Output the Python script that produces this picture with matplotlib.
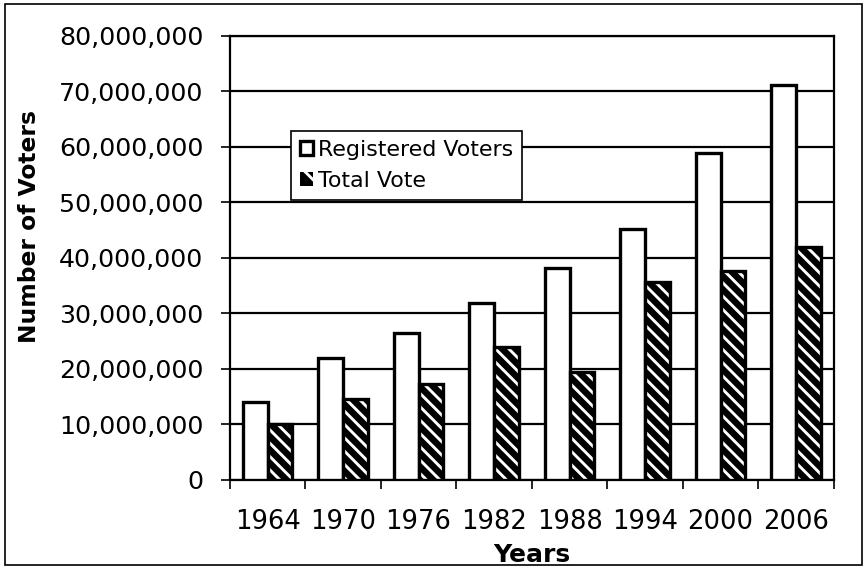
import matplotlib
matplotlib.use("Agg")
import matplotlib.pyplot as plt
from matplotlib.patches import Patch, Rectangle
import numpy as np

years = ["1964", "1970", "1976", "1982", "1988", "1994", "2000", "2006"]
registered = [14_000_000, 22_000_000, 26_400_000, 31_800_000, 38_200_000, 45_200_000, 58_800_000, 71_200_000]
total_vote = [10_100_000, 14_500_000, 17_200_000, 23_900_000, 19_500_000, 35_600_000, 37_700_000, 41_900_000]
y_ticks = [0, 10_000_000, 20_000_000, 30_000_000, 40_000_000, 50_000_000, 60_000_000, 70_000_000, 80_000_000]

plt.rcParams['font.family'] = ['DejaVu Sans']
plt.rcParams['hatch.linewidth'] = 2.6

fig = plt.figure(figsize=(10.8, 7.1), dpi=80)
ax = fig.add_axes([0.266, 0.155, 0.699, 0.782])

x = np.arange(len(years))
w = 0.33
ax.bar(x - w/2, registered, w, color='white', edgecolor='black', linewidth=3, zorder=3)
ax.bar(x + w/2, total_vote, w, color='black', edgecolor='white', hatch='\\\\', linewidth=0, zorder=3)
ax.bar(x + w/2, total_vote, w, fill=False, edgecolor='black', linewidth=3, zorder=4)

ax.set_xlim(-0.5, len(years) - 0.5)
ax.set_ylim(0, 80_000_000)
ax.set_yticks(y_ticks)
ax.set_yticklabels([f"{v:,}" for v in y_ticks], fontsize=22.7)
ax.yaxis.grid(True, color='black', linewidth=2)
ax.set_axisbelow(True)

ax.set_xticks(x)
ax.set_xticklabels(years, fontsize=23.3)
ax.set_xticks(np.arange(len(years) + 1) - 0.5, minor=True)
ax.tick_params(axis='x', which='major', length=0, pad=26)
ax.tick_params(axis='x', which='minor', length=8, width=1.5, direction='out')
ax.tick_params(axis='y', length=8, width=1.5, direction='out', pad=16)
for s in ax.spines.values():
    s.set_linewidth(2)
    s.set_color('black')

ax.set_ylabel("Number of Voters", fontsize=21, fontweight='bold')
ax.yaxis.set_label_coords(-0.313, 0.57)
ax.set_xlabel("Years", fontsize=22.5, fontweight='bold')
ax.xaxis.set_label_coords(0.5, -0.142)

handles = [Patch(facecolor='white', edgecolor='black', linewidth=3),
           Patch(facecolor='black', edgecolor='white', hatch='\\', linewidth=0)]
leg = ax.legend(handles, ["Registered Voters", "Total Vote"], loc='upper left',
                bbox_to_anchor=(0.101, 0.786), fontsize=19.9, frameon=True, fancybox=False,
                edgecolor='black', framealpha=1, handlelength=0.6, handleheight=0.6,
                handletextpad=0.2, borderpad=0.42, labelspacing=0.5, borderaxespad=0)
leg.get_frame().set_linewidth(1.5)
leg.set_zorder(10)

fig.patches.append(Rectangle((0.006, 0.005), 0.992, 0.988, transform=fig.transFigure,
                             fill=False, edgecolor='black', linewidth=1.5))

fig.savefig("out.png", dpi=80)
